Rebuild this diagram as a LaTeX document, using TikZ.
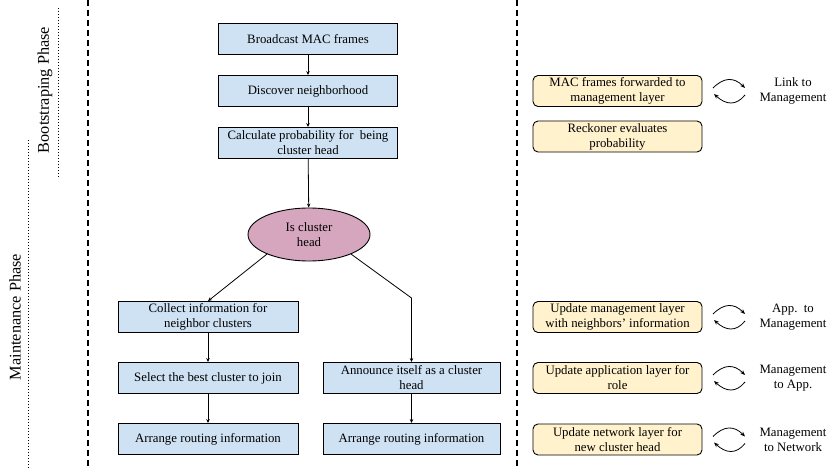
\documentclass[tikz,border=0pt]{standalone}
\usepackage{fontspec}
\setmainfont{Liberation Serif}
\usetikzlibrary{shapes.geometric,arrows.meta}
\definecolor{boxblue}{HTML}{CFE2F3}
\definecolor{boxyellow}{HTML}{FFF2CC}
\definecolor{ellpink}{HTML}{D5A6BD}
\tikzset{
  txt/.style={font=\fontsize{12.8}{15}\selectfont, align=center},
  bluebox/.style={txt, draw=black, line width=0.9pt, fill=boxblue, minimum height=31pt, inner sep=1pt},
  topbox/.style={bluebox, minimum width=179pt},
  leftbox/.style={bluebox, minimum width=180pt},
  rightbox/.style={bluebox, minimum width=177pt},
  yelbox/.style={txt, draw=black, line width=0.9pt, fill=boxyellow, rounded corners=5pt, minimum width=169pt, minimum height=31pt, inner sep=1pt},
  decision/.style={txt, ellipse, draw=black, line width=0.9pt, fill=ellpink, minimum width=122pt, minimum height=53pt, inner sep=0pt},
  arr/.style={line width=0.8pt, -{Stealth[length=4pt,width=3.5pt]}},
  cyc/.style={line width=0.8pt, -{Stealth[length=5pt,width=4pt]}},
  phase/.style={font=\fontsize{16.3}{18}\selectfont, rotate=90},
  sep/.style={line width=1.2pt, dash pattern=on 6pt off 4pt},
  dots/.style={line width=0.8pt, dash pattern=on 0.8pt off 2.2pt},
}
\begin{document}
\begin{tikzpicture}[x=1pt,y=-1pt]
\useasboundingbox (0,0) rectangle (829,468);

% phase labels and separators
\node[phase] (mphase) at (15,317) {Maintenance Phase};
\node[phase] (bphase) at (45,90) {Bootstraping Phase};
\coordinate (m1) at (28,140); \coordinate (m2) at (28,468);
\coordinate (b1) at (58,8); \coordinate (b2) at (58,177);
\draw[dots] (m1) -- (m2);
\draw[dots] (b1) -- (b2);
\coordinate (d1) at (88,0); \coordinate (d2) at (88,468);
\coordinate (d3) at (517,0); \coordinate (d4) at (517,468);
\draw[sep] (d1) -- (d2);
\draw[sep] (d3) -- (d4);

% flow
\node[topbox] (bc) at (308,39) {Broadcast MAC frames};
\node[topbox] (dn) at (308,91) {Discover neighborhood};
\node[topbox] (cp) at (308,143) {Calculate probability for\ \ being\\cluster head};
\node[decision] (ch) at (309,234.5) {Is cluster\\head};
\node[leftbox] (col) at (208,317) {Collect information for\\neighbor clusters};
\node[leftbox] (sel) at (208,378) {Select the best cluster to join};
\node[leftbox] (arl) at (208,439) {Arrange routing information};
\node[rightbox] (ann) at (411.5,378) {Announce itself as a cluster\\head};
\node[rightbox] (arr) at (411.5,439) {Arrange routing information};
\coordinate (bend) at (411.5,298);

\draw[arr] (bc) -- (dn);
\draw[arr] (dn) -- (cp);
\draw[arr] (cp) -- (ch);
\draw[arr] (ch.205) -- (col.north);
\draw[arr] (ch.-25) -- (bend) -- (ann.north);
\draw[arr] (col) -- (sel);
\draw[arr] (sel) -- (arl);
\draw[arr] (ann) -- (arr);

% right panel
\node[yelbox] (y1) at (617.5,91) {MAC frames forwarded to\\management layer};
\node[yelbox] (y2) at (617.5,136.5) {Reckoner evaluates\\probability};
\node[yelbox] (y3) at (617.5,317) {Update management layer\\with neighbors’ information};
\node[yelbox] (y4) at (617.5,378) {Update application layer for\\role};
\node[yelbox] (y5) at (617.5,439.5) {Update network layer for\\new cluster head};

\node[txt] (l1) at (793,91) {Link to\\Management};
\node[txt] (l3) at (793,317) {App.\ \ to\\Management};
\node[txt] (l4) at (793,378) {Management\\to App.};
\node[txt] (l5) at (793,439.5) {Management\\to Network};

\foreach \n/\c in {c1/91, c3/317, c4/378, c5/439.5}{
  \coordinate (\n a) at (713,\c-3);
  \coordinate (\n b) at (745,\c-3);
  \coordinate (\n c) at (745,\c+4);
  \coordinate (\n d) at (714,\c+3);
  \draw[cyc] (\n a) .. controls (724,\c-14) and (734,\c-14) .. (\n b);
  \draw[cyc] (\n c) .. controls (736,\c+15) and (726,\c+14) .. (\n d);
}
\end{tikzpicture}
\end{document}
